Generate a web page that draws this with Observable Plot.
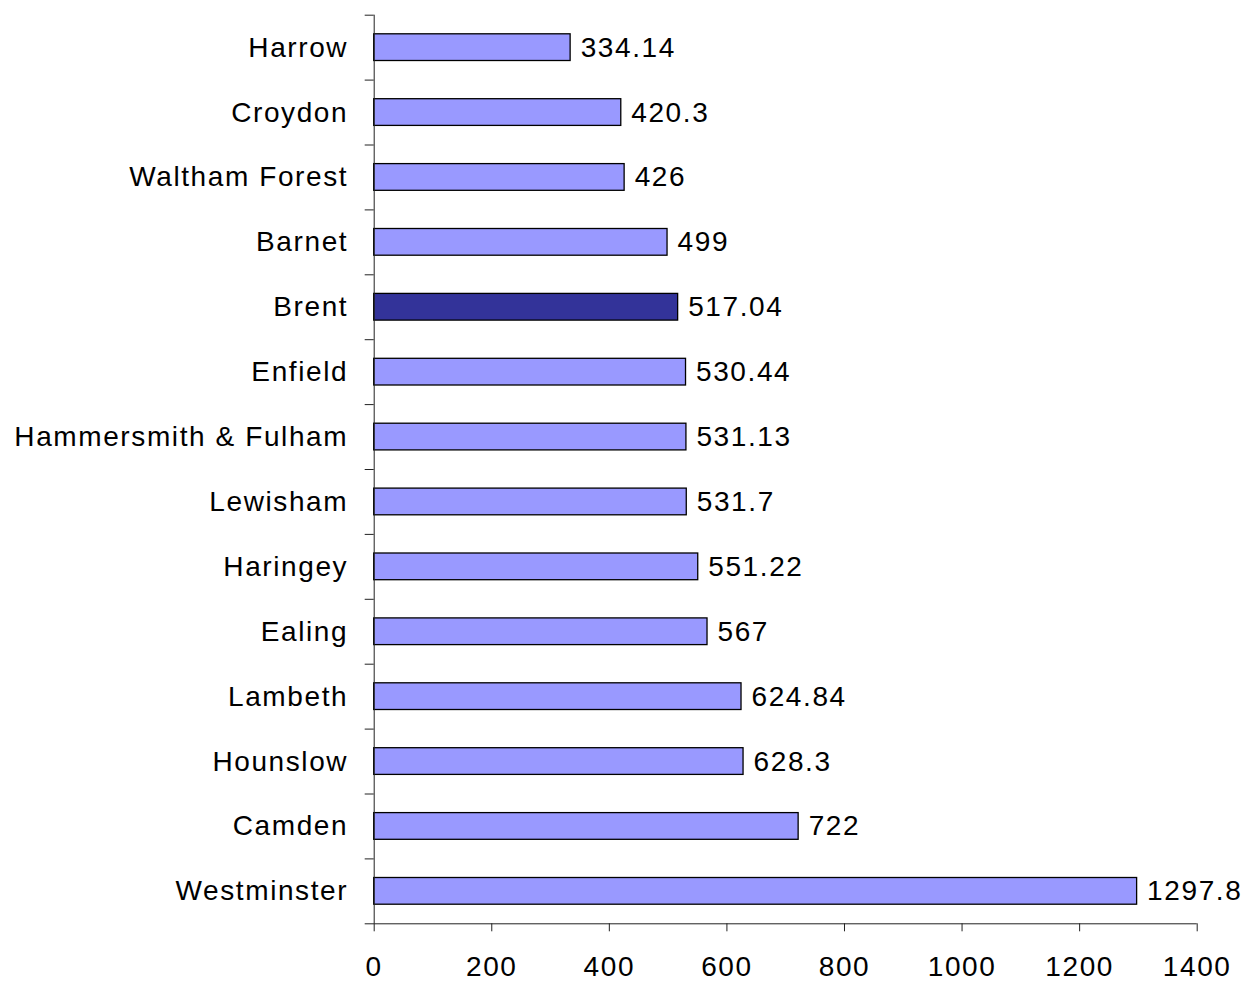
<!DOCTYPE html>
<html>
<head>
<meta charset="utf-8">
<script src="https://cdn.jsdelivr.net/npm/d3@7"></script>
<script src="https://cdn.jsdelivr.net/npm/@observablehq/plot@0.6"></script>
<style>
  html, body { margin: 0; padding: 0; background: #fff; }
</style>
</head>
<body>
<div id="chart"></div>
<script>
const boroughs = ["Harrow", "Croydon", "Waltham Forest", "Barnet", "Brent", "Enfield",
  "Hammersmith & Fulham", "Lewisham", "Haringey", "Ealing", "Lambeth", "Hounslow",
  "Camden", "Westminster"];
const values = [334.14, 420.3, 426, 499, 517.04, 530.44, 531.13, 531.7, 551.22, 567,
  624.84, 628.3, 722, 1297.8];
const highlighted = "Brent";
const xTicks = [0, 200, 400, 600, 800, 1000, 1200, 1400];

const data = boroughs.map((name, i) => ({name, value: values[i]}));

const W = 1250, H = 981;
const mTop = 14.7, mBottom = 57.7, mLeft = 373.7, mRight = 53.3;
const step = (H - mTop - mBottom) / boroughs.length;
const barH = 26.7;
const inset = (step - barH) / 2;
const pxPerUnit = (W - mLeft - mRight) / 1400;
const tickLenUnits = 9 / pxPerUnit;

const chart = Plot.plot({
  width: W,
  height: H,
  marginTop: mTop,
  marginBottom: mBottom,
  marginLeft: mLeft,
  marginRight: mRight,
  style: {fontFamily: "'Liberation Sans', Arial, sans-serif", fontSize: "28px", letterSpacing: "1.6px", color: "#000", background: "#fff"},
  x: {domain: [0, 1400], round: false},
  y: {domain: boroughs, padding: 0, round: false},
  color: {type: "identity"},
  marks: [
    Plot.barX(data, {
      x: "value", y: "name",
      fill: d => d.name === highlighted ? "#333399" : "#9999FF",
      stroke: "#000", strokeWidth: 1.3,
      insetTop: inset, insetBottom: inset
    }),
    // band boundary ticks on the y axis
    Plot.ruleY(boroughs, {y: d => d, dy: -step / 2, x1: -tickLenUnits, x2: 0, stroke: "#222", strokeWidth: 1}),
    // bottom boundary + x axis line
    Plot.ruleY([boroughs[boroughs.length - 1]], {y: d => d, dy: step / 2, x1: -tickLenUnits, x2: 1400, stroke: "#222", strokeWidth: 1}),
    // y axis line
    Plot.ruleX([0], {stroke: "#222", strokeWidth: 1}),
    Plot.axisY({tickSize: 0, tickPadding: 26, label: null, fontSize: 28}),
    Plot.axisX({ticks: xTicks, tickSize: 8, tickPadding: 24, label: null, fontSize: 28, stroke: "#222", tickFormat: d => String(d)}),
    Plot.text(data, {
      x: "value", y: "name",
      text: d => String(d.value),
      textAnchor: "start", dx: 10, fill: "#000", fontSize: 28
    })
  ]
});
document.getElementById("chart").appendChild(chart);
</script>
</body>
</html>
